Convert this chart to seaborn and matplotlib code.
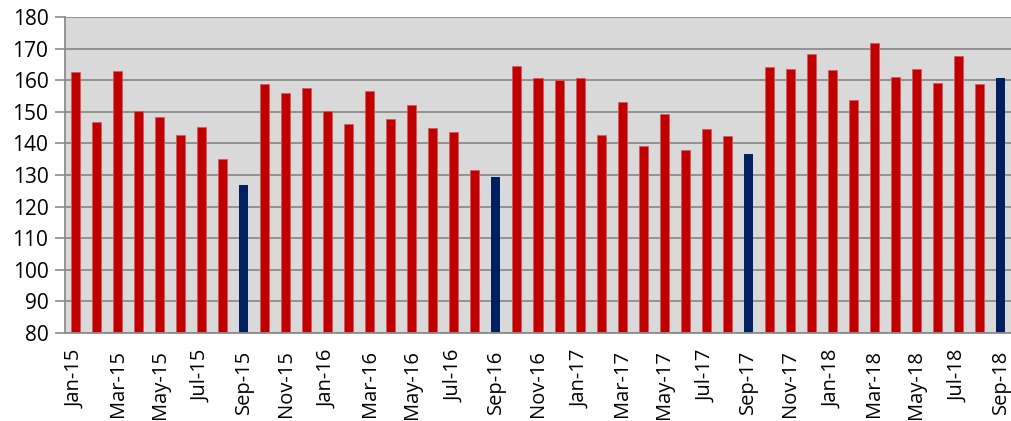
import matplotlib
matplotlib.use("Agg")
import matplotlib.pyplot as plt
import seaborn as sns
import pandas as pd
import numpy as np

months = [
    "Jan-15", "Feb-15", "Mar-15", "Apr-15", "May-15", "Jun-15", "Jul-15", "Aug-15", "Sep-15",
    "Oct-15", "Nov-15", "Dec-15", "Jan-16", "Feb-16", "Mar-16", "Apr-16", "May-16", "Jun-16",
    "Jul-16", "Aug-16", "Sep-16", "Oct-16", "Nov-16", "Dec-16", "Jan-17", "Feb-17", "Mar-17",
    "Apr-17", "May-17", "Jun-17", "Jul-17", "Aug-17", "Sep-17", "Oct-17", "Nov-17", "Dec-17",
    "Jan-18", "Feb-18", "Mar-18", "Apr-18", "May-18", "Jun-18", "Jul-18", "Aug-18", "Sep-18",
]
values = [
    162.6, 146.8, 162.8, 150.3, 148.4, 142.7, 145.2, 135.2, 126.7,
    158.8, 156.0, 157.4, 150.4, 146.1, 156.7, 147.6, 152.2, 144.9,
    143.7, 131.7, 129.3, 164.6, 160.7, 160.2, 160.6, 142.7, 153.0,
    139.1, 149.2, 138.0, 144.6, 142.3, 136.5, 164.2, 163.6, 168.3,
    163.1, 153.6, 171.8, 161.1, 163.6, 159.2, 167.7, 158.8, 160.8,
]
tick_labels = months[::2]

red = "#C00000"
navy = "#002060"
bar_colors = [navy if m.startswith("Sep") else red for m in months]

df = pd.DataFrame({"month": months, "value": values})

sns.set_theme(style="white")
plt.rcParams["font.family"] = ["Open Sans", "DejaVu Sans"]

fig = plt.figure(figsize=(10.11, 4.21), dpi=100)
ax = fig.add_axes([65 / 1011, 1 - 333 / 421, (1011 - 65) / 1011, (333 - 17) / 421])
ax.set_facecolor("#D9D9D9")

sns.barplot(
    data=df, x="month", y="value", hue="month", palette=bar_colors,
    legend=False, width=0.43, ax=ax, saturation=1,
)
for patch, c in zip(ax.patches, bar_colors):
    if c == red:
        patch.set_edgecolor("#D45A5A")
        patch.set_linewidth(0.6)
    else:
        patch.set_edgecolor(navy)
        patch.set_linewidth(0.0)

ax.set_ylim(80, 180)
ax.set_xlim(-0.5, len(months) - 0.5)
ax.set_yticks(np.arange(80, 181, 10))
ax.yaxis.grid(True, color="#8C8C8C", linewidth=1.3)
ax.set_axisbelow(True)

ax.set_xticks(range(0, len(months), 2))
ax.set_xticklabels(tick_labels, rotation=90)
ax.set_xticks(np.arange(-0.5, len(months), 2), minor=True)
ax.tick_params(axis="x", which="major", length=0, pad=12, labelsize=14.5, colors="black")
ax.tick_params(axis="x", which="minor", length=7, width=1.2, color="#8C8C8C", direction="out")
ax.tick_params(axis="y", which="major", length=7, width=1.2, color="#8C8C8C",
               direction="out", labelsize=15, labelcolor="black", pad=5, left=True)

for side in ["top", "right"]:
    ax.spines[side].set_visible(False)
ax.spines["left"].set_color("#8C8C8C")
ax.spines["left"].set_linewidth(1.3)
ax.spines["bottom"].set_color("#8C8C8C")
ax.spines["bottom"].set_linewidth(1.3)

ax.set_xlabel("")
ax.set_ylabel("")

fig.savefig("out.png", dpi=100)
